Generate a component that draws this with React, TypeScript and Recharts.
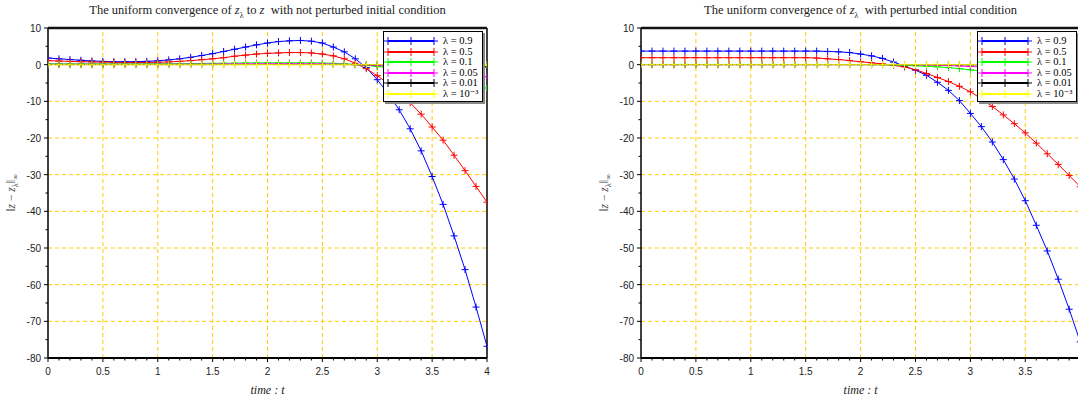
import React from 'react';
import { LineChart, Line, XAxis, YAxis, ReferenceLine } from 'recharts';

// time samples (t), also used as minor tick positions on the x axis
const times = [
  0, 0.1, 0.2, 0.3, 0.4, 0.5, 0.6, 0.7, 0.8, 0.9,
  1, 1.1, 1.2, 1.3, 1.4, 1.5, 1.6, 1.7, 1.8, 1.9,
  2, 2.1, 2.2, 2.3, 2.4, 2.5, 2.6, 2.7, 2.8, 2.9,
  3, 3.1, 3.2, 3.3, 3.4, 3.5, 3.6, 3.7, 3.8, 3.9, 4,
];

const seriesNames = ['λ = 0.9', 'λ = 0.5', 'λ = 0.1', 'λ = 0.05', 'λ = 0.01', 'λ = 10⁻³'];
const seriesKeys = ['l09', 'l05', 'l01', 'l005', 'l001', 'l0001'];
const seriesColors = ['#0000ff', '#ff0000', '#00ff00', '#ff00ff', '#000000', '#ffff00'];

// left panel: not perturbed initial condition
const left09 = [
  1.8, 1.6, 1.4, 1.2, 1.0, 0.9, 0.82, 0.8, 0.82, 0.9,
  1.05, 1.3, 1.6, 2.0, 2.5, 3.0, 3.6, 4.2, 4.8, 5.4,
  5.9, 6.3, 6.5, 6.6, 6.4, 5.9, 4.8, 3.5, 1.6, -0.8,
  -4.1, -7.9, -12.3, -17.5, -23.5, -30.5, -38.1, -46.7, -55.9, -66.1, -76.8,
];
const left05 = [
  1.1, 1.0, 0.9, 0.8, 0.75, 0.7, 0.65, 0.6, 0.6, 0.6,
  0.65, 0.75, 0.9, 1.1, 1.35, 1.6, 1.9, 2.3, 2.6, 2.9,
  3.1, 3.2, 3.3, 3.3, 3.2, 2.9, 2.4, 1.6, 0.4, -1.1,
  -3.0, -5.2, -7.6, -10.4, -13.5, -17.0, -20.6, -24.7, -28.9, -33.2, -37.5,
];
const left01 = [
  0.25, 0.24, 0.23, 0.22, 0.22, 0.22, 0.22, 0.22, 0.22, 0.23,
  0.24, 0.26, 0.28, 0.3, 0.33, 0.36, 0.39, 0.42, 0.45, 0.47,
  0.49, 0.5, 0.5, 0.5, 0.48, 0.44, 0.36, 0.24, 0.05, -0.2,
  -0.5, -0.85, -1.25, -1.7, -2.2, -2.75, -3.35, -4.0, -4.7, -5.5, -6.4,
];
const left005 = [
  0.12, 0.12, 0.11, 0.11, 0.11, 0.11, 0.11, 0.11, 0.11, 0.11,
  0.12, 0.13, 0.14, 0.15, 0.17, 0.18, 0.2, 0.21, 0.23, 0.24,
  0.25, 0.25, 0.26, 0.25, 0.24, 0.22, 0.18, 0.12, 0.02, -0.1,
  -0.25, -0.43, -0.63, -0.86, -1.1, -1.4, -1.7, -2.05, -2.4, -2.8, -3.3,
];
const left001 = [
  0.03, 0.03, 0.03, 0.03, 0.03, 0.03, 0.03, 0.03, 0.03, 0.03,
  0.03, 0.03, 0.03, 0.03, 0.03, 0.03, 0.04, 0.04, 0.04, 0.04,
  0.05, 0.05, 0.05, 0.05, 0.05, 0.04, 0.04, 0.03, 0.01, 0,
  -0.03, -0.07, -0.11, -0.15, -0.2, -0.25, -0.31, -0.37, -0.44, -0.52, -0.6,
];
const left0001 = [
  0, 0, 0, 0, 0, 0, 0, 0, 0, 0,
  0, 0, 0, 0, 0, 0, 0, 0, 0, 0,
  0, 0, 0, 0, 0, 0, 0, 0, 0, 0,
  0, 0, 0, 0, 0, -0.01, -0.01, -0.02, -0.03, -0.04, -0.05,
];

// right panel: perturbed initial condition
const right09 = [
  3.7, 3.7, 3.7, 3.7, 3.7, 3.7, 3.7, 3.7, 3.7, 3.7,
  3.7, 3.7, 3.7, 3.7, 3.7, 3.7, 3.7, 3.6, 3.5, 3.3,
  2.9, 2.4, 1.7, 0.7, -0.4, -1.5, -2.9, -4.8, -7.0, -9.8,
  -13.3, -16.9, -21.1, -25.9, -31.2, -37.1, -43.8, -50.8, -58.5, -66.7, -75.6,
];
const right05 = [
  1.9, 1.9, 1.9, 1.9, 1.9, 1.9, 1.9, 1.9, 1.9, 1.9,
  1.9, 1.9, 1.9, 1.9, 1.9, 1.9, 1.8, 1.6, 1.4, 1.1,
  0.8, 0.5, 0.2, -0.2, -0.6, -1.4, -2.4, -3.5, -4.6, -5.9,
  -7.4, -9.3, -11.4, -13.7, -16.1, -18.6, -21.4, -24.3, -27.2, -30.2, -33.3,
];
const right01 = [
  0.05, 0.05, 0.05, 0.05, 0.05, 0.05, 0.05, 0.05, 0.05, 0.05,
  0.05, 0.05, 0.05, 0.05, 0.05, 0.05, 0.05, 0.05, 0.04, 0.03,
  0.02, 0.01, 0, -0.1, -0.2, -0.3, -0.45, -0.6, -0.8, -1.1,
  -1.4, -1.7, -2.0, -2.35, -2.7, -3.05, -3.4, -3.75, -4.1, -4.5, -4.9,
];
const right005 = [
  0.03, 0.03, 0.03, 0.03, 0.03, 0.03, 0.03, 0.03, 0.03, 0.03,
  0.03, 0.03, 0.03, 0.03, 0.03, 0.03, 0.03, 0.03, 0.03, 0.03,
  0.03, 0.02, 0.02, 0.01, 0, -0.05, -0.1, -0.17, -0.25, -0.35,
  -0.5, -0.6, -0.75, -0.9, -1.05, -1.25, -1.45, -1.65, -1.85, -2.05, -2.3,
];
const right001 = [
  0.01, 0.01, 0.01, 0.01, 0.01, 0.01, 0.01, 0.01, 0.01, 0.01,
  0.01, 0.01, 0.01, 0.01, 0.01, 0.01, 0.01, 0.01, 0.01, 0.01,
  0.01, 0.01, 0.01, 0.01, 0.01, 0, 0, 0, -0.01, -0.02,
  -0.03, -0.05, -0.08, -0.11, -0.15, -0.19, -0.24, -0.29, -0.35, -0.42, -0.5,
];
const right0001 = [
  0, 0, 0, 0, 0, 0, 0, 0, 0, 0,
  0, 0, 0, 0, 0, 0, 0, 0, 0, 0,
  0, 0, 0, 0, 0, 0, 0, 0, 0, 0,
  0, 0, 0, 0, 0, 0, -0.01, -0.01, -0.02, -0.03, -0.04,
];

const yTicks = [10, 5, 0, -5, -10, -15, -20, -25, -30, -35, -40, -45, -50, -55, -60, -65, -70, -75, -80];
const gridX = [0.5, 1, 1.5, 2, 2.5, 3, 3.5];
const gridY = [0, -10, -20, -30, -40, -50, -60, -70];

const GRID = '#ffcc00';
const SERIF = '"Liberation Serif", "DejaVu Serif", serif';
const SANS = '"Liberation Sans", Arial, sans-serif';

const buildRows = (cols: number[][]) =>
  times.map((t, i) => {
    const row: Record<string, number> = { t };
    seriesKeys.forEach((k, j) => (row[k] = cols[j][i]));
    return row;
  });

const leftData = buildRows([left09, left05, left01, left005, left001, left0001]);
const rightData = buildRows([right09, right05, right01, right005, right001, right0001]);

const isMultiple = (v: number, step: number) => Math.abs(v / step - Math.round(v / step)) < 1e-6;

const XTick = (props: any) => {
  const { x, y, payload } = props;
  const v = payload.value;
  const major = isMultiple(v, 0.5);
  return (
    <g>
      <line x1={x} x2={x} y1={y} y2={y + (major ? 4 : 2.5)} stroke="#000" strokeWidth={1} />
      {major && (
        <text x={x} y={y + 17} textAnchor="middle" fontSize={10} fontFamily={SANS} fill="#222">
          {String(v)}
        </text>
      )}
    </g>
  );
};

const YTick = (props: any) => {
  const { x, y, payload } = props;
  const v = payload.value;
  const major = isMultiple(v, 10);
  return (
    <g>
      <line x1={x} x2={x - (major ? 4 : 2.5)} y1={y} y2={y} stroke="#000" strokeWidth={1} />
      {major && (
        <text x={x - 7} y={y + 4} textAnchor="end" fontSize={10} fontFamily={SANS} fill="#222">
          {String(v)}
        </text>
      )}
    </g>
  );
};

const Plus = (props: any) => {
  const { cx, cy, stroke } = props;
  if (cx == null || cy == null) return <g />;
  return (
    <path
      d={`M${cx - 3.5},${cy}H${cx + 3.5}M${cx},${cy - 3.5}V${cy + 3.5}`}
      stroke={stroke}
      strokeWidth={1}
      fill="none"
    />
  );
};

const LegendBox = ({ left, top }: { left: number; top: number }) => (
  <div
    style={{
      position: 'absolute',
      left,
      top,
      width: 100,
      height: 71,
      border: '1px solid #000',
      boxShadow: '2px 2px 0 #888',
      background: '#fff',
      fontFamily: SERIF,
      fontSize: 10.5,
      paddingTop: 4,
      boxSizing: 'border-box',
    }}
  >
    {seriesNames.map((name, i) => (
      <div key={name} style={{ display: 'flex', alignItems: 'center', height: 10.5 }}>
        <svg width={54} height={10} style={{ display: 'block' }}>
          <line x1={4} x2={50} y1={5} y2={5} stroke={seriesColors[i]} strokeWidth={2} />
          {[4, 27, 50].map((px) => (
            <path key={px} d={`M${px - 4},5H${px + 4}M${px},1V9`} stroke={seriesColors[i]} strokeWidth={1} />
          ))}
        </svg>
        <span style={{ marginLeft: 5, lineHeight: '10px', whiteSpace: 'nowrap' }}>{name}</span>
      </div>
    ))}
  </div>
);

type PanelProps = {
  left: number;
  width: number;
  xMax: number;
  data: Record<string, number>[];
  title: React.ReactNode;
  rightFrame: boolean;
  legendLeft: number;
};

const Panel = ({ left, width, xMax, data, title, rightFrame, legendLeft }: PanelProps) => {
  const plotLeft = 48;
  const plotRight = width - (rightFrame ? 10 : 0);
  const center = (plotLeft + plotLeft + (plotRight - plotLeft) * (4 / xMax)) / 2;
  const xTicks = times.filter((t) => t <= xMax);
  return (
    <div style={{ position: 'absolute', left, top: 0, width, height: 400 }}>
      <LineChart width={width} height={400} data={data} margin={{ top: 28, right: rightFrame ? 10 : 0, bottom: 12, left: 0 }}>
        <XAxis
          type="number"
          dataKey="t"
          domain={[0, xMax]}
          allowDataOverflow
          ticks={xTicks}
          interval={0}
          height={30}
          tickSize={0}
          tickMargin={0}
          tickLine={false}
          tick={<XTick />}
          axisLine={{ stroke: '#000', strokeWidth: 2 }}
        />
        <YAxis
          type="number"
          domain={[-80, 10]}
          ticks={yTicks}
          interval={0}
          width={48}
          tickSize={0}
          tickMargin={0}
          tickLine={false}
          tick={<YTick />}
          axisLine={{ stroke: '#000', strokeWidth: 1.5 }}
        />
        {gridX.map((g) => (
          <ReferenceLine key={'gx' + g} x={g} stroke={GRID} strokeDasharray="4 3" strokeWidth={1} />
        ))}
        {gridY.map((g) => (
          <ReferenceLine key={'gy' + g} y={g} stroke={GRID} strokeDasharray="4 3" strokeWidth={1} />
        ))}
        <ReferenceLine y={10} stroke="#111" strokeWidth={2.5} />
        {rightFrame && <ReferenceLine x={4} stroke="#000" strokeWidth={1.5} />}
        {seriesKeys.map((k, i) => (
          <Line
            key={k}
            type="linear"
            dataKey={k}
            name={seriesNames[i]}
            stroke={seriesColors[i]}
            strokeWidth={1}
            dot={(p: any) => <Plus key={k + p.index} cx={p.cx} cy={p.cy} stroke={seriesColors[i]} />}
            activeDot={false}
            isAnimationActive={false}
          />
        ))}
      </LineChart>
      <div
        style={{
          position: 'absolute',
          left: center - 250,
          width: 500,
          top: 3,
          textAlign: 'center',
          fontFamily: SERIF,
          fontSize: 12.5,
          color: '#222',
          whiteSpace: 'nowrap',
        }}
      >
        {title}
      </div>
      <div
        style={{
          position: 'absolute',
          left: center - 50,
          width: 100,
          top: 383,
          textAlign: 'center',
          fontFamily: SERIF,
          fontSize: 12,
          fontStyle: 'italic',
          color: '#222',
        }}
      >
        time : t
      </div>
      <div
        style={{
          position: 'absolute',
          left: 11 - 40,
          top: 193 - 8,
          width: 80,
          height: 16,
          lineHeight: '16px',
          textAlign: 'center',
          transform: 'rotate(-90deg)',
          fontFamily: SERIF,
          fontSize: 11.5,
          color: '#444',
          whiteSpace: 'nowrap',
        }}
      >
        ‖<i>z</i> − <i>z</i>
        <sub style={{ fontSize: 8 }}>λ</sub>‖<sub style={{ fontSize: 8 }}>∞</sub>
      </div>
      <LegendBox left={legendLeft} top={31} />
    </div>
  );
};

export default function App() {
  return (
    <div style={{ position: 'absolute', left: 0, top: 0, width: 1078, height: 400, overflow: 'hidden', background: '#fff' }}>
      <Panel
        left={0}
        width={497}
        xMax={4}
        data={leftData}
        rightFrame
        legendLeft={383}
        title={
          <span>
            The uniform convergence of <i>z</i>
            <sub style={{ fontSize: 8 }}>λ</sub> to <i>z</i>&nbsp; with not perturbed initial condition
          </span>
        }
      />
      <Panel
        left={593}
        width={485}
        xMax={3.98}
        data={rightData}
        rightFrame={false}
        legendLeft={384}
        title={
          <span>
            The uniform convergence of <i>z</i>
            <sub style={{ fontSize: 8 }}>λ</sub>&nbsp; with perturbed intial condition
          </span>
        }
      />
    </div>
  );
}
